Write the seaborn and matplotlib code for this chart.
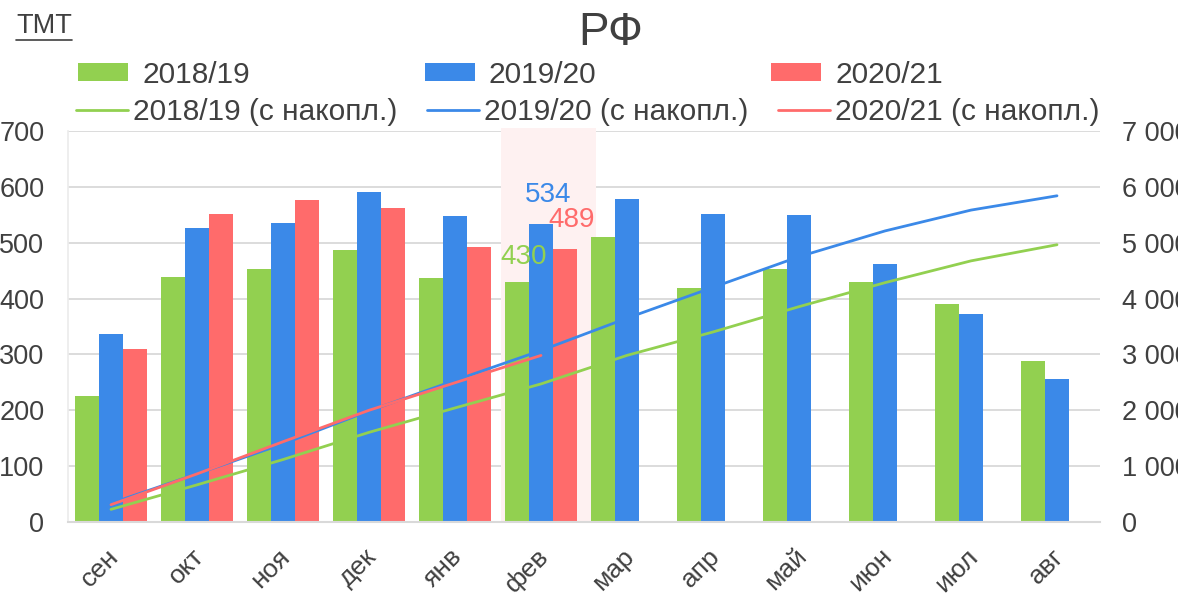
import numpy as np
import pandas as pd
import matplotlib
matplotlib.use("Agg")
import matplotlib.pyplot as plt
import matplotlib.transforms as mtransforms
import seaborn as sns
from matplotlib.patches import Patch
from matplotlib.lines import Line2D
from matplotlib.ticker import FuncFormatter, FixedLocator

months = ["сен", "окт", "ноя", "дек", "янв", "фев", "мар", "апр", "май", "июн", "июл", "авг"]
seasons = ["2018/19", "2019/20", "2020/21"]
v_1819 = [226, 439, 453, 487, 437, 430, 511, 419, 453, 430, 390, 289]
v_1920 = [336, 526, 536, 590, 548, 534, 579, 552, 549, 461, 373, 256]
v_2021 = [310, 551, 576, 563, 493, 489, np.nan, np.nan, np.nan, np.nan, np.nan, np.nan]
highlight_month = "фев"

colors = ["#92d050", "#3b89e8", "#ff6b6b"]
text_color = "#404040"
grid_color = "#d9d9d9"

sns.set_theme(style="white")
plt.rcParams["font.family"] = ["Liberation Sans", "DejaVu Sans"]

df = pd.DataFrame({
    "month": months * 3,
    "season": sum([[s] * len(months) for s in seasons], []),
    "value": v_1819 + v_1920 + v_2021,
})

fig = plt.figure(figsize=(11.78, 5.99), dpi=100)
ax = fig.add_axes([68 / 1178, 1 - 522 / 599, (1100 - 68) / 1178, (522 - 131) / 599])

sns.barplot(data=df, x="month", y="value", hue="season", order=months,
            hue_order=seasons, palette=colors, width=0.83, saturation=1,
            linewidth=0, legend=False, ax=ax, zorder=2)

ax.set_xlim(-0.5, len(months) - 0.5)
ax.set_ylim(0, 700)
ax.set_yticks(np.arange(0, 701, 100))
ax.set_xlabel("")
ax.set_ylabel("")
ax.yaxis.grid(True, color=grid_color, linewidth=1.3, zorder=0)
ax.set_axisbelow(True)
for side in ["top", "right"]:
    ax.spines[side].set_visible(False)
ax.spines["left"].set_color("#ececec")
ax.spines["bottom"].set_color(grid_color)
ax.spines["bottom"].set_linewidth(1.5)
ax.tick_params(axis="y", length=0, pad=17, labelsize=19.5, labelcolor=text_color)
ax.tick_params(axis="x", which="major", length=0, pad=16, labelsize=19, labelcolor=text_color)
ax.xaxis.set_minor_locator(FixedLocator(np.arange(-0.5, len(months), 1.0)))
ax.tick_params(axis="x", which="minor", length=8, width=1.5, color=grid_color, direction="out")
shift = mtransforms.ScaledTranslation(-5 / 100, 0, fig.dpi_scale_trans)
for lab in ax.get_xticklabels():
    lab.set_rotation(45)
    lab.set_ha("right")
    lab.set_va("top")
    lab.set_rotation_mode("anchor")
    lab.set_transform(lab.get_transform() + shift)

hi = months.index(highlight_month)
ax.axvspan(hi - 0.47, hi + 0.64, ymin=0, ymax=1.008, color="#fef1f1", zorder=1,
           linewidth=0, clip_on=False)

# value labels for highlighted month
offs = [-0.277, 0.0, 0.277]
dys = [18, 21, 21]
for vals, c, o, dy in zip([v_1819, v_1920, v_2021], colors, offs, dys):
    val = vals[hi]
    ax.annotate(f"{val:.0f}", xy=(hi + o + 0.08, val), xytext=(0, dy),
                textcoords="offset points", ha="center", va="center",
                color=c, fontsize=20, zorder=6)

# cumulative lines on right axis
ax2 = ax.twinx()
x = np.arange(len(months))
for vals, c in zip([v_1819, v_1920, v_2021], colors):
    arr = np.array(vals, dtype=float)
    n = int(np.sum(~np.isnan(arr)))
    cum = np.cumsum(arr[:n])
    sns.lineplot(x=x[:n], y=cum, color=c, linewidth=2, ax=ax2, zorder=5)
ax2.set_ylim(0, 7000)
ax2.set_yticks(np.arange(0, 7001, 1000))
ax2.yaxis.set_major_formatter(FuncFormatter(lambda v, p: f"{int(v):,}".replace(",", " ")))
ax2.tick_params(axis="y", length=0, pad=16, labelsize=19.5, labelcolor=text_color)
for side in ["top", "right", "left", "bottom"]:
    ax2.spines[side].set_visible(False)
ax2.set_ylabel("")
ax2.set_xlim(-0.5, len(months) - 0.5)

# title and unit
fig.text(611 / 1178, 1 - 33 / 599, "РФ", ha="center", va="center",
         fontsize=33, color=text_color)
unit = fig.text(16 / 1178, 1 - 26 / 599, "ТМТ", ha="left", va="center",
                fontsize=19.5, color=text_color)

# legends
bar_handles = [Patch(facecolor=c, edgecolor="none") for c in colors]
leg1 = fig.legend(bar_handles, seasons, loc="center left",
                  bbox_to_anchor=(78 / 1178, 1 - 75 / 599), ncol=3, frameon=False,
                  fontsize=21.5, handlelength=1.68, handleheight=0.55,
                  handletextpad=0.47, columnspacing=5.85, borderpad=0, borderaxespad=0,
                  labelcolor=text_color)
line_handles = [Line2D([], [], color=c, linewidth=2) for c in colors]
leg2 = fig.legend(line_handles, [s + " (с накопл.)" for s in seasons], loc="center left",
                  bbox_to_anchor=(76 / 1178, 1 - 112 / 599), ncol=3, frameon=False,
                  fontsize=21.5, handlelength=1.75, handletextpad=0.15,
                  columnspacing=1.0, borderpad=0, borderaxespad=0,
                  labelcolor=text_color)

fig.canvas.draw()
bb = unit.get_window_extent()
inv = fig.transFigure.inverted()
(x0, y0), (x1, _) = inv.transform([(bb.x0, bb.y0 - 1), (bb.x1, bb.y0 - 1)])
fig.add_artist(Line2D([x0, x1], [y0, y0], transform=fig.transFigure,
                      color=text_color, linewidth=1.2))

fig.savefig("out.png", dpi=100)
